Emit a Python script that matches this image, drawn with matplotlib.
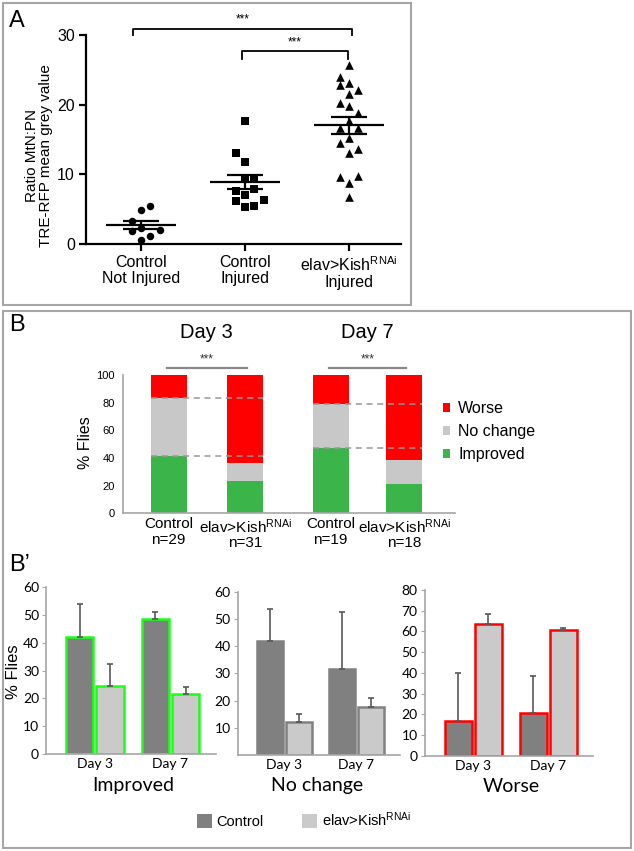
"""Three-panel figure: TRE-RFP ratio scatter (A), outcome stacked bars (B)
and per-outcome bar charts (B').
"""
import matplotlib

matplotlib.use("Agg")  # headless
import matplotlib.pyplot as plt
import numpy as np
from matplotlib.patches import Patch, Rectangle

W, H = 634, 851

# ---- panel A data: ratio MtN:PN, one value per fly ----
a_groups = ["Control\nNot Injured", "Control\nInjured",
            "elav>Kish$^{\\mathregular{RNAi}}$\nInjured"]
a_not_injured = [5.4, 4.9, 3.3, 2.3, 1.85, 2.0, 1.2, 0.6]
a_ctrl_injured = [17.65, 13.0, 11.7, 9.4, 9.4, 7.65, 7.85, 7.0, 6.2, 6.3, 5.3, 5.4]
a_kish_injured = [25.7, 23.9, 22.8, 23.05, 22.1, 21.6, 20.3, 19.8, 18.75, 17.7,
                  16.6, 16.6, 15.25, 14.45, 13.1, 13.7, 9.65, 9.75, 8.7, 6.8]
# swarm column of each point (layout only)
a_not_injured_col = [1, 0, -1, 0, -1, 2, 1, 0]
a_ctrl_injured_col = [0, -1, 0, 0, 1, -1, 1, 0, -1, 2, 0, 1]
a_kish_injured_col = [0, -1, -1, 0, 1, 0, -1, 0, 1, 0, -1, 1, 0, -1, 0, 1, -1, 1, 0, 0]

# ---- panel B data: % flies per outcome ----
b_days = ["Day 3", "Day 7"]
b_labels = ["Control\nn=29", "elav>Kish$^{\\mathregular{RNAi}}$\nn=31",
            "Control\nn=19", "elav>Kish$^{\\mathregular{RNAi}}$\nn=18"]
b_improved = [41.4, 23.6, 47.0, 21.0]
b_nochange = [41.7, 12.5, 32.0, 17.6]
b_worse = [16.9, 63.9, 21.0, 61.4]

# ---- panel B' data: mean % flies and upper error ----
bp_days = ["Day 3", "Day 7"]
imp_ctrl, imp_ctrl_err = [41.9, 48.3], [11.9, 2.6]
imp_kish, imp_kish_err = [24.6, 21.6], [7.7, 2.4]
nc_ctrl, nc_ctrl_err = [42.0, 31.7], [11.5, 20.7]
nc_kish, nc_kish_err = [12.1, 17.8], [3.0, 3.1]
wo_ctrl, wo_ctrl_err = [16.6, 20.4], [23.5, 18.2]
wo_kish, wo_kish_err = [63.4, 60.8], [4.9, 1.0]

GREEN = "#3bb54a"
GREY = "#c8c8c8"
RED = "#ff0000"
CTRL = "#808080"
KISH = "#cacaca"
AXGREY = "#a6a6a6"
KISH_LABEL = "elav>Kish$^{\\mathregular{RNAi}}$"

plt.rcParams.update({
    "font.family": ["Liberation Sans", "DejaVu Sans"],
    "mathtext.default": "regular",
})


def fx(px):
    return px / W


def fy(py):
    return 1 - py / H


def px_box(x0, y0, x1, y1):
    return [x0 / W, 1 - y1 / H, (x1 - x0) / W, (y1 - y0) / H]


def panel_a(fig):
    ax = fig.add_axes(px_box(86, 35, 401, 244))
    groups = [a_not_injured, a_ctrl_injured, a_kish_injured]
    cols = [a_not_injured_col, a_ctrl_injured_col, a_kish_injured_col]
    markers = [("o", 5.4), ("s", 5.2), ("^", 6.2)]
    for i, (vals, col, (m, ms)) in enumerate(zip(groups, cols, markers)):
        vals = np.asarray(vals)
        ax.scatter(i + np.asarray(col) * 0.09, vals, marker=m, s=ms ** 2,
                   color="black", linewidths=0, zorder=3, clip_on=False)
        mean = vals.mean()
        sem = vals.std(ddof=1) / np.sqrt(len(vals))
        ax.hlines(mean, i - 0.34, i + 0.34, color="black", lw=1.6, zorder=4)
        ax.hlines([mean - sem, mean + sem], i - 0.17, i + 0.17, color="black",
                  lw=1.6, zorder=4)
        ax.vlines(i, mean - sem, mean + sem, color="black", lw=1.6, zorder=4)

    for x0, x1, ytop, yend, ystar in ((-0.08, 2.03, 30.9, 30.0, 32.3),
                                      (0.97, 1.99, 27.7, 26.6, 28.9)):
        ax.plot([x0, x0, x1, x1], [yend, ytop, ytop, yend], color="black",
                lw=1.3, clip_on=False)
        ax.text((x0 + x1) / 2, ystar, "***", ha="center", va="center",
                fontsize=8.5)

    ax.set_xlim(-0.53, 2.5)
    ax.set_ylim(0, 30)
    ax.set_yticks([0, 10, 20, 30])
    ax.set_xticks([0, 1, 2])
    ax.set_xticklabels(a_groups, fontsize=12.5, linespacing=1.1)
    for s in ("top", "right"):
        ax.spines[s].set_visible(False)
    for s in ("left", "bottom"):
        ax.spines[s].set_linewidth(1.6)
    ax.tick_params(direction="out", length=5, width=1.6, labelsize=11.5, pad=3)
    fig.text(fx(39), fy(156), "Ratio MtN:PN\nTRE-RFP mean grey value",
             rotation=90, ha="center", va="center", fontsize=11,
             linespacing=1.0)


def panel_b(fig):
    ax = fig.add_axes(px_box(123, 375, 455, 513.3))
    pos = np.array([0, 1, 2.123, 3.088])
    w = 0.472
    bot2 = np.add(b_improved, b_nochange)
    h_imp = ax.bar(pos, b_improved, w, color=GREEN)
    h_nc = ax.bar(pos, b_nochange, w, bottom=b_improved, color=GREY)
    h_wo = ax.bar(pos, b_worse, w, bottom=bot2, color=RED)

    for c, k in ((0, 1), (2, 3)):
        for yv in (b_improved[c], bot2[c]):
            ax.plot([pos[c] - w / 2, pos[k] + w / 2], [yv, yv], color="#999999",
                    lw=1.1, dashes=(4, 3), zorder=5)
        mid = (pos[c] + pos[k]) / 2
        ax.plot([pos[c] - 0.02, pos[k] + 0.02], [105.3, 105.3], color="#888888",
                lw=1.6, clip_on=False)
        ax.text(mid, 111.6, "***", ha="center", va="center", fontsize=8.5,
                color="#333333")
        ax.text(mid, 130.4, b_days[c // 2], ha="center", va="center",
                fontsize=14.5)

    ax.set_xlim(-0.599, 3.752)
    ax.set_ylim(0, 100)
    ax.set_yticks(range(0, 101, 20))
    ax.set_yticklabels([str(v) for v in range(0, 101, 20)],
                       family=["Liberation Sans Narrow", "Liberation Sans"],
                       fontsize=8)
    ax.set_xticks(pos)
    ax.set_xticklabels(b_labels, fontsize=11, linespacing=1.1)
    for s in ("top", "right"):
        ax.spines[s].set_visible(False)
    for s in ("left", "bottom"):
        ax.spines[s].set_color(AXGREY)
        ax.spines[s].set_linewidth(1.2)
    ax.tick_params(axis="y", length=0, pad=6)
    ax.tick_params(axis="x", length=0, pad=3)
    ax.legend([h_wo, h_nc, h_imp], ["Worse", "No change", "Improved"],
              loc="center left", bbox_to_anchor=(fx(443), fy(431.7)),
              bbox_transform=fig.transFigure, frameon=False, fontsize=11.5,
              handlelength=0.45, handleheight=0.45, handletextpad=0.5,
              labelspacing=0.5, borderpad=0, borderaxespad=0)
    fig.text(fx(86), fy(443), "% Flies", rotation=90, ha="center",
             va="center", fontsize=11.5)


def outcome_axes(fig, box, ymax, ticks, ctrl, ctrl_err, kish, kish_err,
                 ctrl_edge, kish_edge, title, title_x):
    ax = fig.add_axes(px_box(*box))
    x = np.arange(len(bp_days))
    ekw = dict(ecolor="#595959", elinewidth=1.2, capsize=2.5, capthick=1.2)
    ax.bar(x - 0.2, ctrl, 0.36, color=CTRL, edgecolor=ctrl_edge, linewidth=1.8,
           yerr=[np.zeros(len(ctrl)), ctrl_err], error_kw=ekw)
    ax.bar(x + 0.2, kish, 0.36, color=KISH, edgecolor=kish_edge, linewidth=1.8,
           yerr=[np.zeros(len(kish)), kish_err], error_kw=ekw)
    ax.set_xlim(-0.65, 1.6)
    ax.set_ylim(0, ymax)
    ax.set_yticks(ticks)
    ax.set_xticks(x)
    ax.set_xticklabels(bp_days)
    for s in ("top", "right"):
        ax.spines[s].set_visible(False)
    for s in ("left", "bottom"):
        ax.spines[s].set_color(AXGREY)
        ax.spines[s].set_linewidth(1.2)
    ax.tick_params(axis="y", length=3, color=AXGREY, labelsize=10, pad=2)
    ax.tick_params(axis="x", length=0, labelsize=10, pad=3)
    for lab in ax.get_xticklabels() + ax.get_yticklabels():
        lab.set_family(["Lato", "DejaVu Sans"])
    fig.text(fx(title_x), fy(786), title, ha="center", va="center",
             fontsize=14, family=["Lato", "DejaVu Sans"])
    return ax


def panel_b_prime(fig):
    outcome_axes(fig, (45.9, 586.7, 215.8, 754.3), 60, range(0, 61, 10),
                 imp_ctrl, imp_ctrl_err, imp_kish, imp_kish_err,
                 "#1aff1a", "#1aff1a", "Improved", 133)
    outcome_axes(fig, (237.5, 591.7, 399.5, 755), 60, range(10, 61, 10),
                 nc_ctrl, nc_ctrl_err, nc_kish, nc_kish_err,
                 CTRL, CTRL, "No change", 317)
    outcome_axes(fig, (424.6, 590, 593, 755.7), 80, range(0, 81, 10),
                 wo_ctrl, wo_ctrl_err, wo_kish, wo_kish_err,
                 RED, RED, "Worse", 511)
    fig.text(fx(13), fy(672), "% Flies", rotation=90, ha="center",
             va="center", fontsize=12)
    fig.legend([Patch(facecolor=CTRL), Patch(facecolor=KISH)],
               ["Control", KISH_LABEL], loc="center left",
               bbox_to_anchor=(fx(197), fy(820)), ncol=2, frameon=False,
               fontsize=10.5, handlelength=1.05, handleheight=1.05,
               handletextpad=0.3, columnspacing=2.6, borderpad=0,
               borderaxespad=0)


fig = plt.figure(figsize=(W / 100, H / 100), dpi=100)
for x0, y0, x1, y1 in ((3, 3, 411, 305), (3, 311, 631, 848)):
    fig.add_artist(Rectangle((fx(x0), fy(y1)), (x1 - x0) / W, (y1 - y0) / H,
                             transform=fig.transFigure, fill=False,
                             edgecolor=AXGREY, linewidth=1.5))
fig.text(fx(9), fy(21), "A", ha="left", va="center", fontsize=17)
fig.text(fx(9), fy(325), "B", ha="left", va="center", fontsize=17)
fig.text(fx(9), fy(565), "B\u2019", ha="left", va="center", fontsize=17)

panel_a(fig)
panel_b(fig)
panel_b_prime(fig)

fig.savefig("out.png", dpi=100)
plt.close(fig)
